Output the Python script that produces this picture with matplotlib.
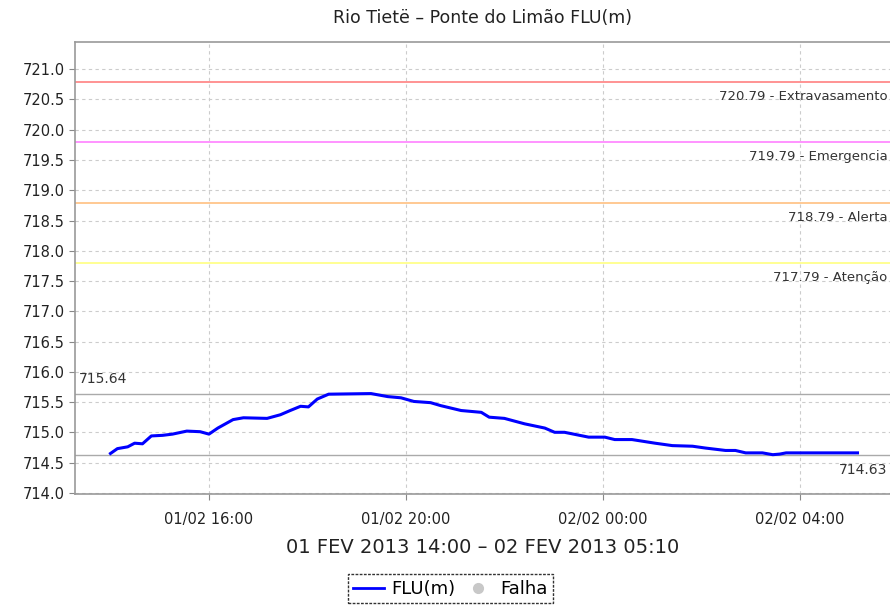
import matplotlib
matplotlib.use("Agg")
import matplotlib.pyplot as plt
from matplotlib.lines import Line2D
import numpy as np

# horas desde 01/02 00:00
hours = [14.0, 14.14, 14.35, 14.49, 14.65, 14.83, 15.06, 15.26, 15.55, 15.82,
         16.0, 16.18, 16.49, 16.7, 17.18, 17.45, 17.65, 17.86, 18.02, 18.2,
         18.43, 19.29, 19.63, 19.9, 20.16, 20.5, 20.71, 21.12, 21.53, 21.69,
         22.0, 22.41, 22.82, 23.02, 23.22, 23.71, 24.04, 24.24, 24.59, 25.06,
         25.41, 25.82, 26.08, 26.49, 26.69, 26.9, 27.24, 27.45, 27.59, 27.72,
         29.17]
level = [714.65, 714.73, 714.76, 714.82, 714.81, 714.94, 714.95, 714.97, 715.02, 715.01,
         714.97, 715.07, 715.21, 715.24, 715.23, 715.29, 715.36, 715.43, 715.42, 715.55,
         715.63, 715.64, 715.59, 715.57, 715.51, 715.49, 715.44, 715.36, 715.33, 715.25,
         715.23, 715.14, 715.07, 715.0, 715.0, 714.92, 714.92, 714.88, 714.88, 714.82,
         714.78, 714.77, 714.74, 714.70, 714.70, 714.66, 714.66, 714.63, 714.64, 714.66,
         714.66]

limits = [720.79, 719.79, 718.79, 717.79]
limit_names = ["Extravasamento", "Emergencia", "Alerta", "Atenção"]
limit_colors = ["#ff8080", "#ff80ff", "#ffc080", "#ffff80"]

max_level = 715.64
min_level = 714.63

tick_hours = [16, 20, 24, 28]
tick_labels = ["01/02 16:00", "01/02 20:00", "02/02 00:00", "02/02 04:00"]

fig = plt.figure(figsize=(8.9, 6.14), dpi=100, facecolor="white")
ax = fig.add_axes([0.0843, 0.1954, 0.9157, 0.7362])

# grid
ax.set_axisbelow(True)
ax.grid(color="#cccccc", linestyle=(0, (3, 3)), linewidth=0.8)

for v, name, c in zip(limits, limit_names, limit_colors):
    ax.axhline(v, color=c, linewidth=1.2)
    ax.text(0.997, v - 0.13, "%.2f - %s" % (v, name), transform=ax.get_yaxis_transform(),
            ha="right", va="top", fontsize=9.5, color="#333333")

ax.axhline(max_level, color="#aaaaaa", linewidth=1)
ax.axhline(min_level, color="#aaaaaa", linewidth=1)
ax.text(0.005, max_level + 0.12, "%.2f" % max_level, transform=ax.get_yaxis_transform(),
        ha="left", va="bottom", fontsize=10, color="#333333")
ax.text(0.997, min_level - 0.13, "%.2f" % min_level, transform=ax.get_yaxis_transform(),
        ha="right", va="top", fontsize=10, color="#333333")

ax.plot(hours, level, color="#0000ff", linewidth=2.2)

ax.set_xlim(13.28, 29.83)
ax.set_ylim(713.98, 721.45)
ax.set_yticks(np.arange(714.0, 721.01, 0.5))
ax.set_yticklabels(["%.1f" % t for t in np.arange(714.0, 721.01, 0.5)])
ax.set_xticks(tick_hours)
ax.set_xticklabels(tick_labels)
ax.tick_params(axis="both", labelsize=10.5, colors="#888888", labelcolor="#222222", length=4)
ax.tick_params(axis="x", pad=9)

# spines
ax.spines["right"].set_visible(False)
for s in ["left", "bottom", "top"]:
    ax.spines[s].set_color("#999999")
    ax.spines[s].set_linewidth(1.2)

ax.set_title("Rio Tietë – Ponte do Limão FLU(m)", fontsize=12.5, color="#222222", pad=14)
ax.set_xlabel("01 FEV 2013 14:00 – 02 FEV 2013 05:10", fontsize=14, color="#222222", labelpad=8)

handles = [Line2D([], [], color="#0000ff", linewidth=2),
           Line2D([], [], color="#c8c8c8", marker="o", linestyle="none", markersize=7)]
leg = fig.legend(handles, ["FLU(m)", "Falha"], loc="center", bbox_to_anchor=(0.506, 0.041),
                 ncol=2, fontsize=13, frameon=True, fancybox=False, handlelength=1.7,
                 handletextpad=0.4, columnspacing=0.4, borderpad=0.3)
leg.get_frame().set_edgecolor("black")
leg.get_frame().set_linestyle((0, (2, 1)))
leg.get_frame().set_linewidth(1)

fig.savefig("out.png", dpi=100)
